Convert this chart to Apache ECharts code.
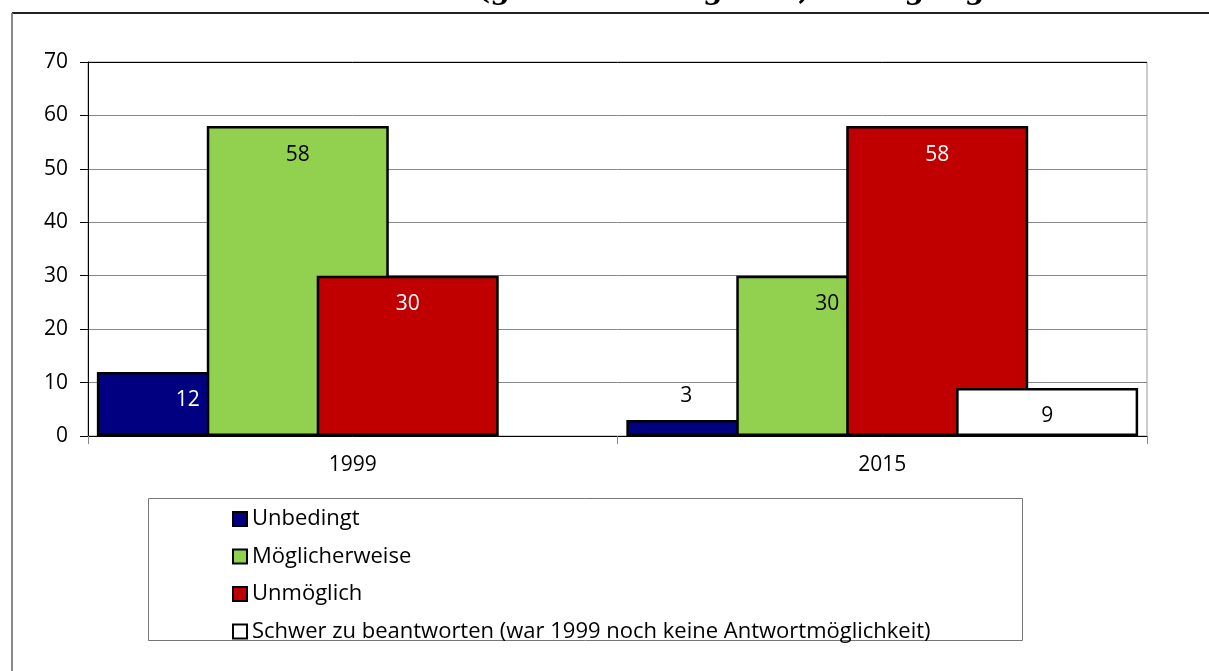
<!DOCTYPE html>
<html>
<head>
<meta charset="utf-8">
<script src="https://cdn.jsdelivr.net/npm/echarts@6/dist/echarts.min.js"></script>
<style>
    html, body { margin: 0; padding: 0; background: #fff; }
    #chart { width: 1209px; height: 671px; }
</style>
</head>
<body>
<div id="chart"></div>
<script>
// Daten
var years = ['1999', '2015'];
var seriesNames = ['Unbedingt', 'Möglicherweise', 'Unmöglich', 'Schwer zu beantworten (war 1999 noch keine Antwortmöglichkeit)'];
var unbedingt = [12, 3];
var moeglicherweise = [58, 30];
var unmoeglich = [30, 58];
var schwer = ['-', 9];
var yTicks = [0, 10, 20, 30, 40, 50, 60, 70];

var colors = ['#000080', '#92D050', '#C00000', '#FFFFFF'];
var labelColors = ['#fff', '#000', '#fff', '#000'];
var font = 'Open Sans';

var myChart = echarts.init(document.getElementById('chart'));

function makeData(values) {
    return values.map(function (v) {
        var item = {value: v};
        // kleiner Balken: Beschriftung ausserhalb
        if (v !== '-' && v < 5) {
            item.label = {
                position: 'top',
                distance: 13,
                offset: [-31, 0],
                color: '#000',
                backgroundColor: '#fff',
                padding: [0, 6]
            };
        }
        return item;
    });
}

var allValues = [unbedingt, moeglicherweise, unmoeglich, schwer];
var series = allValues.map(function (vals, i) {
    return {
        name: seriesNames[i],
        type: 'bar',
        data: makeData(vals),
        barWidth: 182,
        barGap: '-39.6%',
        itemStyle: {
            color: colors[i],
            borderColor: '#000',
            borderWidth: 2.5
        },
        label: {
            show: true,
            position: 'insideTop',
            distance: 18,
            color: labelColors[i],
            fontFamily: font,
            fontSize: 21
        },
        emphasis: {disabled: true}
    };
});

myChart.setOption({
    animation: false,
    textStyle: {fontFamily: font},
    grid: {
        left: 88,
        right: 62,
        top: 62,
        bottom: 235,
        show: true,
        borderColor: '#999',
        borderWidth: 1
    },
    xAxis: {
        type: 'category',
        data: years,
        axisLine: {lineStyle: {color: '#000', width: 1}},
        axisTick: {show: true, length: 8, lineStyle: {color: '#888'}},
        axisLabel: {color: '#000', fontSize: 21, margin: 19, fontFamily: font}
    },
    yAxis: {
        type: 'value',
        min: yTicks[0],
        max: yTicks[yTicks.length - 1],
        interval: 10,
        axisLine: {show: true, lineStyle: {color: '#000', width: 1}},
        axisTick: {show: true, length: 8, lineStyle: {color: '#000'}},
        axisLabel: {color: '#000', fontSize: 21, margin: 20, fontFamily: font},
        splitLine: {
            lineStyle: {
                color: ['#888', '#888', '#888', '#888', '#888', '#888', '#888', '#000'],
                width: 1
            }
        }
    },
    legend: {
        orient: 'vertical',
        left: 232,
        top: 508,
        padding: 0,
        itemWidth: 14,
        itemHeight: 14,
        itemGap: 15.5,
        icon: 'rect',
        textStyle: {color: '#000', fontSize: 22, fontFamily: font},
        data: seriesNames
    },
    graphic: [
        // Titel (oben abgeschnitten)
        {
            type: 'text',
            x: 477,
            y: 6,
            style: {
                text: '(gerundete Angaben, Befragungen 1999 und 2015, in %)',
                font: 'bold 28px "DejaVu Serif"',
                verticalAlign: 'bottom',
                fill: '#000'
            }
        },
        // Rahmen
        {type: 'line', shape: {x1: 12, y1: 13, x2: 1209, y2: 13}, style: {stroke: '#222', lineWidth: 2}},
        {type: 'line', shape: {x1: 12, y1: 13, x2: 12, y2: 671}, style: {stroke: '#888', lineWidth: 2}},
        // Legendenrahmen
        {type: 'rect', shape: {x: 148.5, y: 498.5, width: 874, height: 142}, style: {fill: 'none', stroke: '#777', lineWidth: 1}, z: -1}
    ],
    series: series
});
</script>
</body>
</html>
